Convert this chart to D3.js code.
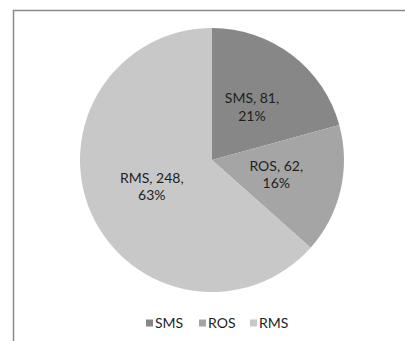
<!DOCTYPE html>
<html>
<head>
<meta charset="utf-8">
<script src="https://cdn.jsdelivr.net/npm/d3@7/dist/d3.min.js"></script>
<style>
  html, body { margin: 0; padding: 0; background: #fff; }
  svg { display: block; }
  text { font-family: Lato, "Open Sans", sans-serif; fill: #1e1e1e; }
</style>
</head>
<body>
<svg id="chart" width="405" height="341"></svg>
<script>
// Data
const categories = ["SMS", "ROS", "RMS"];
const values = [81, 62, 248];
const percents = ["21%", "16%", "63%"];
const colors = ["#878787", "#a5a5a5", "#c8c8c8"];

const width = 405, height = 341;
const cx = 212, cy = 160, radius = 132;

const svg = d3.select("#chart");

// Chart area frame (top and left edges visible)
svg.append("path")
  .attr("d", `M13.5,${height} L13.5,10.5 L${width},10.5`)
  .attr("fill", "none")
  .attr("stroke", "#8a8a8a")
  .attr("stroke-width", 1.5);

const data = categories.map((c, i) => ({ name: c, value: values[i], pct: percents[i], color: colors[i] }));

const pie = d3.pie().value(d => d.value).sort(null);
const arc = d3.arc().innerRadius(0).outerRadius(radius);

const g = svg.append("g").attr("transform", `translate(${cx},${cy})`);
const arcs = pie(data);

g.selectAll("path.slice")
  .data(arcs)
  .join("path")
  .attr("class", "slice")
  .attr("d", arc)
  .attr("fill", d => d.data.color);

// Data labels: "name, value," / "percent"
const labels = g.selectAll("text.lbl")
  .data(arcs)
  .join("text")
  .attr("class", "lbl")
  .attr("transform", d => `translate(${arc.centroid(d)})`)
  .attr("text-anchor", "middle")
  .style("font-size", "14px");

labels.append("tspan")
  .attr("x", 0).attr("dy", "-0.3em")
  .text(d => `${d.data.name}, ${d.data.value},`);
labels.append("tspan")
  .attr("x", 0).attr("dy", "1.25em")
  .text(d => d.data.pct);

// Legend
const legendX = [146, 199, 250];
const legend = svg.append("g").attr("transform", "translate(0,323)");
const items = legend.selectAll("g.item")
  .data(data)
  .join("g")
  .attr("class", "item")
  .attr("transform", (d, i) => `translate(${legendX[i]},0)`);
items.append("rect")
  .attr("x", 0).attr("y", -3.5)
  .attr("width", 7).attr("height", 7)
  .attr("fill", d => d.color);
items.append("text")
  .attr("x", 9).attr("y", 0)
  .attr("dy", "0.35em")
  .style("font-size", "14px")
  .text(d => d.name);
</script>
</body>
</html>
